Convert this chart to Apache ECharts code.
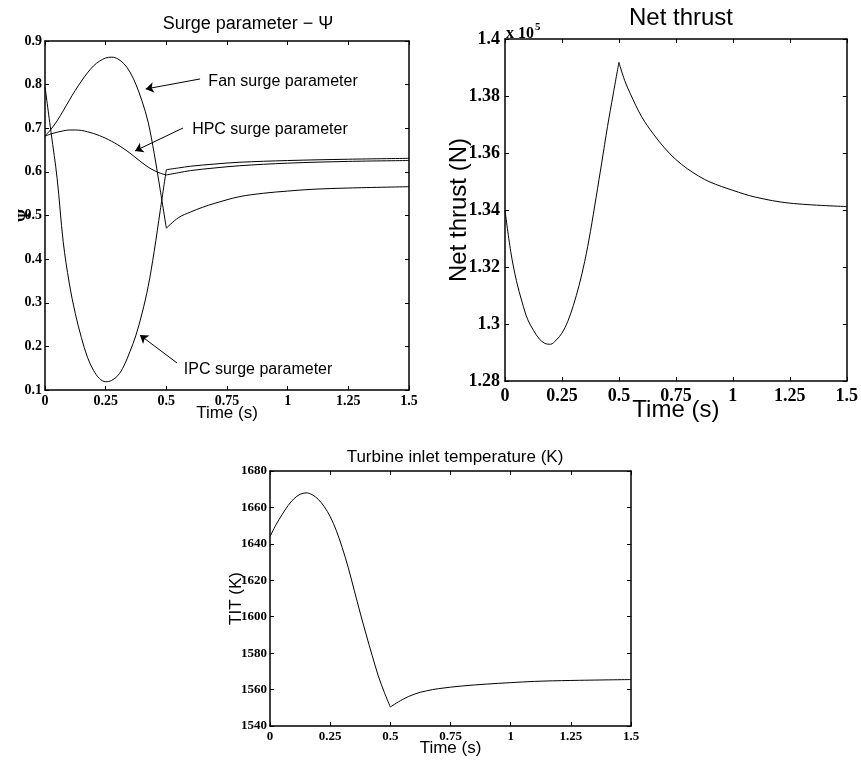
<!DOCTYPE html>
<html><head><meta charset="utf-8">
<script src="https://cdn.jsdelivr.net/npm/echarts@6/dist/echarts.min.js"></script>
<style>html,body{margin:0;padding:0;background:#fff}#c{width:861px;height:761px}</style>
</head><body><div id="c"></div>
<script>
// ---- Surge parameter (top-left) ----
const fanT = [0,0.025,0.05,0.075,0.1,0.125,0.15,0.175,0.2,0.225,0.25,0.275,0.3,0.325,0.35,0.375,0.4,0.425,0.45,0.475,0.5,0.55,0.6,0.65,0.7,0.8,0.9,1.0,1.1,1.25,1.5];
const fanV = [0.682,0.698,0.717,0.740,0.764,0.787,0.808,0.827,0.843,0.854,0.861,0.863,0.859,0.848,0.829,0.800,0.762,0.714,0.642,0.558,0.471,0.495,0.508,0.519,0.528,0.543,0.551,0.556,0.560,0.563,0.566];
const ipcT = [0,0.025,0.05,0.075,0.1,0.125,0.15,0.175,0.2,0.225,0.25,0.275,0.3,0.325,0.35,0.375,0.4,0.425,0.45,0.475,0.5,0.55,0.6,0.7,0.8,1.0,1.25,1.5];
const ipcV = [0.795,0.69,0.585,0.44,0.345,0.275,0.22,0.175,0.145,0.126,0.119,0.122,0.133,0.155,0.188,0.226,0.276,0.337,0.418,0.512,0.605,0.609,0.613,0.618,0.622,0.626,0.629,0.631];
const hpcT = [0,0.025,0.05,0.075,0.1,0.125,0.15,0.175,0.2,0.225,0.25,0.275,0.3,0.325,0.35,0.375,0.4,0.425,0.45,0.475,0.5,0.55,0.6,0.7,0.8,1.0,1.25,1.5];
const hpcV = [0.682,0.687,0.691,0.694,0.696,0.696,0.695,0.692,0.688,0.683,0.677,0.670,0.662,0.653,0.643,0.632,0.621,0.611,0.603,0.597,0.593,0.598,0.603,0.609,0.614,0.620,0.624,0.626];
// annotation texts (data coords of text centre) and arrows [from, to]
const annoText = ['Fan surge parameter','HPC surge parameter','IPC surge parameter'];
const annoPos = [[0.981,0.8066],[0.927,0.696],[0.878,0.146]];
const annoArrowFrom = [[0.639,0.813],[0.569,0.7006],[0.544,0.162]];
const annoArrowTo = [[0.415,0.790],[0.371,0.648],[0.391,0.226]];

// ---- Net thrust (top-right), N ----
const thrT = [0,0.025,0.05,0.075,0.1,0.125,0.15,0.175,0.2,0.225,0.25,0.275,0.3,0.325,0.35,0.375,0.4,0.425,0.45,0.475,0.5,0.525,0.55,0.6,0.65,0.7,0.75,0.8,0.85,0.9,1.0,1.1,1.25,1.5];
const thrV = [134000,132550,131520,130770,130150,129780,129480,129320,129290,129440,129680,130080,130650,131350,132200,133250,134450,135680,136930,138070,139180,138550,138080,137270,136680,136180,135770,135450,135190,134980,134690,134450,134240,134120];

// ---- Turbine inlet temperature (bottom), K ----
const titT = [0,0.025,0.05,0.075,0.1,0.125,0.15,0.175,0.2,0.225,0.25,0.275,0.3,0.325,0.35,0.375,0.4,0.425,0.45,0.475,0.5,0.55,0.6,0.65,0.7,0.8,0.9,1.0,1.1,1.25,1.5];
const titV = [1644,1650.5,1656,1661,1664.8,1667.2,1668,1667,1664.5,1660.5,1655,1647.5,1638,1627,1614.5,1602,1590,1578.5,1567.5,1558.5,1550.4,1554.5,1557.5,1559.3,1560.5,1562,1563,1563.8,1564.5,1565,1565.5];

const timeTicks = {min:0, max:1.5, interval:0.25};

const serif = "'Liberation Serif','Times New Roman',serif";
const sans = "'Liberation Sans',Arial,Helvetica,sans-serif";

function zip(T,V){ return T.map((t,i)=>[t,V[i]]); }
function segs(T,V,gi){
  const d = zip(T,V);
  const pre = d.filter(p=>p[0]<=0.5), post = d.filter(p=>p[0]>=0.5);
  return [pre,post].map(dd=>({type:'line', xAxisIndex:2*gi, yAxisIndex:2*gi, data:dd, showSymbol:false, smooth:0.35,
    lineStyle:{color:'#000', width:1}, silent:true}));
}
function xAxes(gi, fs, margin, name, nameSize, nameGap){
  const line = {show:true, onZero:false, lineStyle:{color:'#000', width:1.5}};
  const tick = {show:true, inside:true, length:4, lineStyle:{color:'#000', width:1}};
  return [
    {gridIndex:gi, type:'value', position:'bottom', ...timeTicks, axisLine:line, axisTick:tick, splitLine:{show:false},
     axisLabel:{fontFamily:serif, fontWeight:'bold', fontSize:fs, color:'#000', margin:margin},
     name:name, nameLocation:'middle', nameGap:nameGap, nameMoveOverlap:false, nameTextStyle:{fontFamily:sans, fontSize:nameSize, color:'#000'}},
    {gridIndex:gi, type:'value', position:'top', ...timeTicks, axisLine:line, axisTick:tick, splitLine:{show:false}, axisLabel:{show:false}}
  ];
}
function yAxes(gi, rng, fs, margin, fmt, name, nameStyle, nameGap){
  const line = {show:true, onZero:false, lineStyle:{color:'#000', width:1.5}};
  const tick = {show:true, inside:true, length:4, lineStyle:{color:'#000', width:1}};
  const lab = {fontFamily:serif, fontWeight:'bold', fontSize:fs, color:'#000', margin:margin, formatter:fmt};
  return [
    {gridIndex:gi, type:'value', position:'left', ...rng, axisLine:line, axisTick:tick, splitLine:{show:false},
     axisLabel:lab, name:name, nameLocation:'middle', nameGap:nameGap, nameMoveOverlap:false, nameTextStyle:nameStyle},
    {gridIndex:gi, type:'value', position:'right', ...rng, axisLine:line, axisTick:tick, splitLine:{show:false}, axisLabel:{show:false}}
  ];
}

const series = [].concat(
  segs(fanT,fanV,0), segs(ipcT,ipcV,0), segs(hpcT,hpcV,0),
  segs(thrT,thrV,1), segs(titT,titV,2)
);
series.push({
  type:'scatter', xAxisIndex:0, yAxisIndex:0, symbolSize:0, silent:true,
  itemStyle:{opacity:1},
  data: annoPos.map((p,i)=>({value:p, name:annoText[i]})),
  label:{show:true, position:'inside', formatter:p=>p.name, fontFamily:sans, fontSize:16, color:'#000', opacity:1},
  markLine:{silent:true, symbol:['none','arrow'], symbolSize:8, animation:false,
    lineStyle:{color:'#000', width:1, type:'solid', opacity:1}, label:{show:false},
    data: annoArrowFrom.map((f,i)=>[{coord:f},{coord:annoArrowTo[i]}])}
});

const option = {
  animation:false,
  backgroundColor:'#fff',
  title:[
    {text:'Surge parameter \u2212 \u03A8', left:243, top:10, textAlign:'center', textStyle:{fontFamily:sans, fontSize:18, fontWeight:'normal', color:'#000'}},
    {text:'Net thrust', left:676, top:1, textAlign:'center', textStyle:{fontFamily:sans, fontSize:24, fontWeight:'normal', color:'#000'}},
    {text:'Turbine inlet temperature (K)', left:450, top:444, textAlign:'center', textStyle:{fontFamily:sans, fontSize:17, fontWeight:'normal', color:'#000'}}
  ],
  grid:[
    {left:45, top:41, width:364, height:349},
    {left:505, top:39, width:343, height:342},
    {left:270, top:471, width:361, height:255}
  ],
  xAxis: [].concat(
    xAxes(0, 14, 4, 'Time (s)', 17, 15),
    xAxes(1, 18, 6, 'Time (s)', 24, 17),
    xAxes(2, 13, 4, 'Time (s)', 17, 14)
  ),
  yAxis: [].concat(
    yAxes(0, {min:0.1, max:0.9, interval:0.1}, 14, 3, v=>String(+v.toFixed(1)), '\u03A8', {fontFamily:serif, fontWeight:'bold', fontSize:16, color:'#000'}, 12),
    yAxes(1, {min:128000, max:140000, interval:2000}, 18, 5, v=>String(+(v/1e5).toFixed(2)), 'Net thrust (N)', {fontFamily:sans, fontSize:24, color:'#000'}, 34),
    yAxes(2, {min:1540, max:1680, interval:20}, 13, 3, v=>String(v), 'TIT (K)', {fontFamily:sans, fontSize:17, color:'#000'}, 25)
  ),
  series: series
};
const chart = echarts.init(document.getElementById('c'), null, {renderer:'canvas'});
chart.setOption(option);
// "x 10^5" multiplier note at the top of the thrust y-axis, located through the axis' own coordinate system
const expPos = chart.convertToPixel({xAxisIndex:2, yAxisIndex:2}, [0, 140000]);
chart.setOption({graphic:[{type:'text', x:expPos[0]+1, y:expPos[1]-20, style:{text:'{a|x 10}{b|5}', rich:{a:{fontFamily:serif, fontWeight:'bold', fontSize:16, fill:'#000', padding:[7,0,0,0]}, b:{fontFamily:serif, fontWeight:'bold', fontSize:11, fill:'#000', padding:[0,0,7,1]}}}}]});
</script></body></html>
